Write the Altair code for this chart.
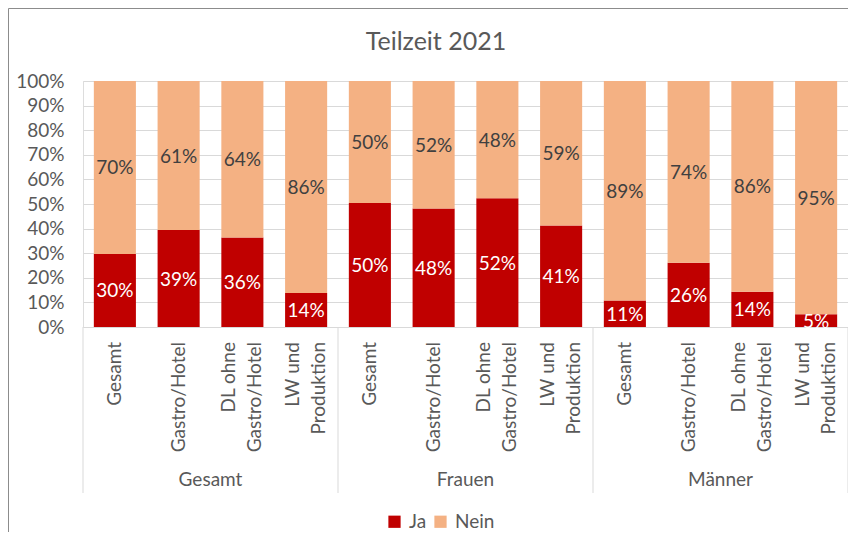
import altair as alt
import pandas as pd

groups = ["Gesamt", "Frauen", "Männer"]
sectors = ["Gesamt", "Gastro/Hotel", "DL ohne\nGastro/Hotel", "LW und\nProduktion"]
ja = [29.7, 39.4, 36.4, 13.8, 50.4, 48.2, 52.3, 41.3, 10.8, 26.1, 14.3, 5.2]
nein = [100 - v for v in ja]
answers = ["Ja", "Nein"]
colors = ["#C00000", "#F4B183"]
title_text = "Teilzeit 2021"

keys = [f"{g}|{s}" for g in groups for s in sectors]
rows = []
for i, k in enumerate(keys):
    rows.append({"key": k, "Antwort": "Ja", "val": ja[i] / 100, "mid": ja[i] / 200,
                 "lab": f"{round(ja[i])}%", "ord": 0})
    rows.append({"key": k, "Antwort": "Nein", "val": nein[i] / 100,
                 "mid": (ja[i] + nein[i] / 2) / 100, "lab": f"{round(nein[i])}%", "ord": 1})
df = pd.DataFrame(rows)

sub_txt = [k.split("|")[1] for k in keys]
sub1_df = pd.DataFrame({"key": [k for k, t in zip(keys, sub_txt) if "\n" not in t],
                        "txt": [t for t in sub_txt if "\n" not in t]})
sub2_df = pd.DataFrame({"key": [k for k, t in zip(keys, sub_txt) if "\n" in t],
                        "txt": [t for t in sub_txt if "\n" in t]})
grp_df = pd.DataFrame({"key": [f"{g}|{sectors[1]}" for g in groups], "txt": groups})
left_df = pd.DataFrame({"key": [f"{g}|{sectors[0]}" for g in groups]})
right_df = pd.DataFrame({"key": [keys[-1]]})

W, H = 765, 246
FONT = "Lato"
FS = 19
GREY = "#595959"
xscale = alt.Scale(domain=keys, paddingInner=0, paddingOuter=0)
yscale = alt.Scale(domain=[0, 1])
yaxis = alt.Axis(format=".0%", values=[i / 10 for i in range(11)], title=None,
                 ticks=False, domain=False, gridColor="#d9d9d9", labelOverlap=False,
                 labelFontSize=FS, labelColor=GREY, labelFont=FONT, labelPadding=19)
xaxis = alt.Axis(labels=False, ticks=False, title=None, domainColor="#d9d9d9", grid=False)


def xenc(bp=None):
    if bp is None:
        return alt.X("key:N", scale=xscale, sort=keys, axis=xaxis)
    return alt.X("key:N", scale=xscale, sort=keys, axis=xaxis, bandPosition=bp)


base = alt.Chart(df)

bars = base.mark_bar(width=alt.RelativeBandSize(0.66)).encode(
    x=xenc(),
    y=alt.Y("val:Q", stack="zero", scale=yscale, axis=yaxis),
    color=alt.Color("Antwort:N", scale=alt.Scale(domain=answers, range=colors),
                    legend=alt.Legend(orient="none", legendX=302, legendY=431, direction="horizontal",
                                      title=None, symbolType="square", symbolSize=150,
                                      symbolStrokeWidth=0, labelFontSize=FS, labelFont=FONT,
                                      labelColor=GREY, columnPadding=4, labelOffset=5)),
    order=alt.Order("ord:Q"),
)

lab_ja = base.transform_filter(alt.datum.Antwort == "Ja").mark_text(
    fontSize=FS, font=FONT, baseline="middle", color="#ffffff", dy=1).encode(
    x=xenc(), y=alt.Y("mid:Q", stack=None, scale=yscale, axis=yaxis), text="lab:N")
lab_nein = base.transform_filter(alt.datum.Antwort == "Nein").mark_text(
    fontSize=FS, font=FONT, baseline="middle", color="#404040", dy=1).encode(
    x=xenc(), y=alt.Y("mid:Q", stack=None, scale=yscale, axis=yaxis), text="lab:N")

sub1 = alt.Chart(sub1_df).mark_text(angle=270, align="right", baseline="middle", fontSize=FS,
                                    font=FONT, color=GREY).encode(
    x=xenc(), y=alt.value(H + 15), text="txt:N")
sub2 = alt.Chart(sub2_df).mark_text(angle=270, align="right", baseline="middle", fontSize=FS,
                                    font=FONT, color=GREY, lineBreak="\n", lineHeight=26,
                                    dy=-13).encode(
    x=xenc(), y=alt.value(H + 15), text="txt:N")

grp = alt.Chart(grp_df).mark_text(align="center", baseline="middle", fontSize=FS, font=FONT,
                                  color=GREY).encode(
    x=xenc(1), y=alt.value(H + 153), text="txt:N")

sep_l = alt.Chart(left_df).mark_rule(color="#d9d9d9", strokeWidth=1).encode(
    x=xenc(0), y=alt.value(H), y2=alt.value(H + 166))
sep_r = alt.Chart(right_df).mark_rule(color="#d9d9d9", strokeWidth=1).encode(
    x=xenc(1), y=alt.value(H), y2=alt.value(H + 166))

ttl = alt.Chart(pd.DataFrame({"t": [title_text]})).mark_text(
    fontSize=25, font=FONT, color=GREY, baseline="middle", align="center").encode(
    x=alt.value(353), y=alt.value(-39), text="t:N")

border = alt.Chart(pd.DataFrame({"a": [0]})).mark_rect(filled=False, stroke="#8c8c8c", strokeWidth=1).encode(
    x=alt.value(-74.5), x2=alt.value(W + 40), y=alt.value(-72.5), y2=alt.value(H + 300))

chart = alt.layer(border, bars, lab_ja, lab_nein, sub1, sub2, grp, sep_l, sep_r, ttl).properties(
    width=W, height=H, autosize=alt.AutoSizeParams(type="none"),
    padding={"left": 75, "top": 73, "right": 0, "bottom": 205},
).configure_view(strokeWidth=0).configure(background="#ffffff")

chart.save("out.html", embed_options={"renderer": "svg", "actions": False})
